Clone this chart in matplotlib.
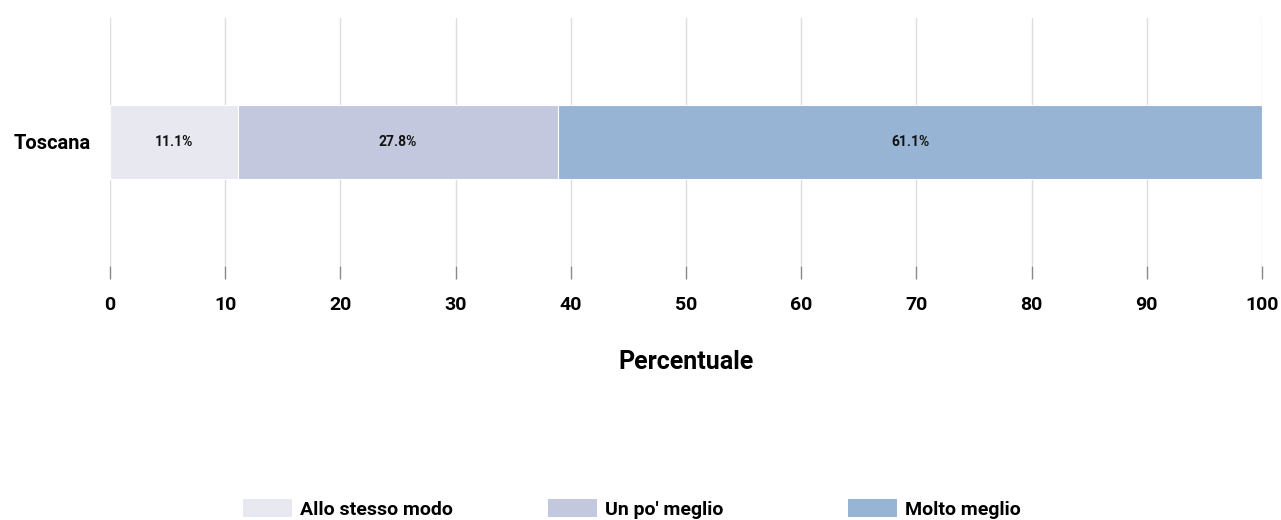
import matplotlib
matplotlib.use("Agg")
import matplotlib.pyplot as plt
from matplotlib.patches import Patch
from matplotlib import font_manager as fm

names = {f.name for f in fm.fontManager.ttflist}
fam = ['Liberation Sans Narrow'] if 'Liberation Sans Narrow' in names else ['Roboto']
narrow = fam[0] == 'Liberation Sans Narrow'
plt.rcParams['font.family'] = fam + ['DejaVu Sans']
plt.rcParams['font.weight'] = 'bold'
k = 1.12 if narrow else 1.0

categories = ["Toscana"]
series_names = ["Allo stesso modo", "Un po' meglio", "Molto meglio"]
values = [[11.1], [27.8], [61.1]]
colors = ["#E8E8F1", "#C3C8DE", "#98B4D4"]
xticks = [0, 10, 20, 30, 40, 50, 60, 70, 80, 90, 100]

fig = plt.figure(figsize=(12.81, 5.2), dpi=100)
W, H = 1281, 520
ax = fig.add_axes([110 / W, 1 - 266 / H, (1262 - 110) / W, (266 - 18) / H])

left = [0.0] * len(categories)
for name, vals, col in zip(series_names, values, colors):
    bars = ax.barh(categories, vals, left=left, height=0.3, color=col,
                   edgecolor="white", linewidth=0.8, label=name, zorder=2)
    for b, v in zip(bars, vals):
        ax.text(b.get_x() + b.get_width() / 2, b.get_y() + b.get_height() / 2,
                f"{v:.1f}%", ha="center", va="center", fontsize=10 * k,
                fontweight="bold", color="#111111", zorder=3)
    left = [l + v for l, v in zip(left, vals)]

ax.set_xlim(0, 100)
ax.set_ylim(-0.5, 0.5)
ax.set_xticks(xticks)
ax.set_xticklabels([str(t) for t in xticks], fontsize=14 * k, fontweight="bold")
ax.tick_params(axis="x", length=9, width=1, color="#888888", pad=12.5)
ax.tick_params(axis="y", length=0, pad=14, labelsize=14.5 * k)
for lab in ax.get_yticklabels():
    lab.set_fontweight("bold")
ax.grid(axis="x", color="#DDDDDD", linewidth=1, zorder=0)
ax.set_axisbelow(True)
for s in ax.spines.values():
    s.set_visible(False)
ax.set_xlabel("Percentuale", fontsize=18 * k, fontweight="bold", labelpad=26)

lfs = 14 * k
fpx = lfs * 100 / 72
for x0, c, n in zip([243, 548, 848], colors, series_names):
    fig.legend([Patch(facecolor=c, edgecolor="none")], [n], loc="center left",
               bbox_to_anchor=(x0 / W, 1 - 509 / H), frameon=False,
               borderpad=0, borderaxespad=0, handlelength=49 / fpx,
               handleheight=20 / fpx, handletextpad=8 / fpx,
               prop={"weight": "bold", "size": lfs})

fig.savefig("out.png", dpi=100)
